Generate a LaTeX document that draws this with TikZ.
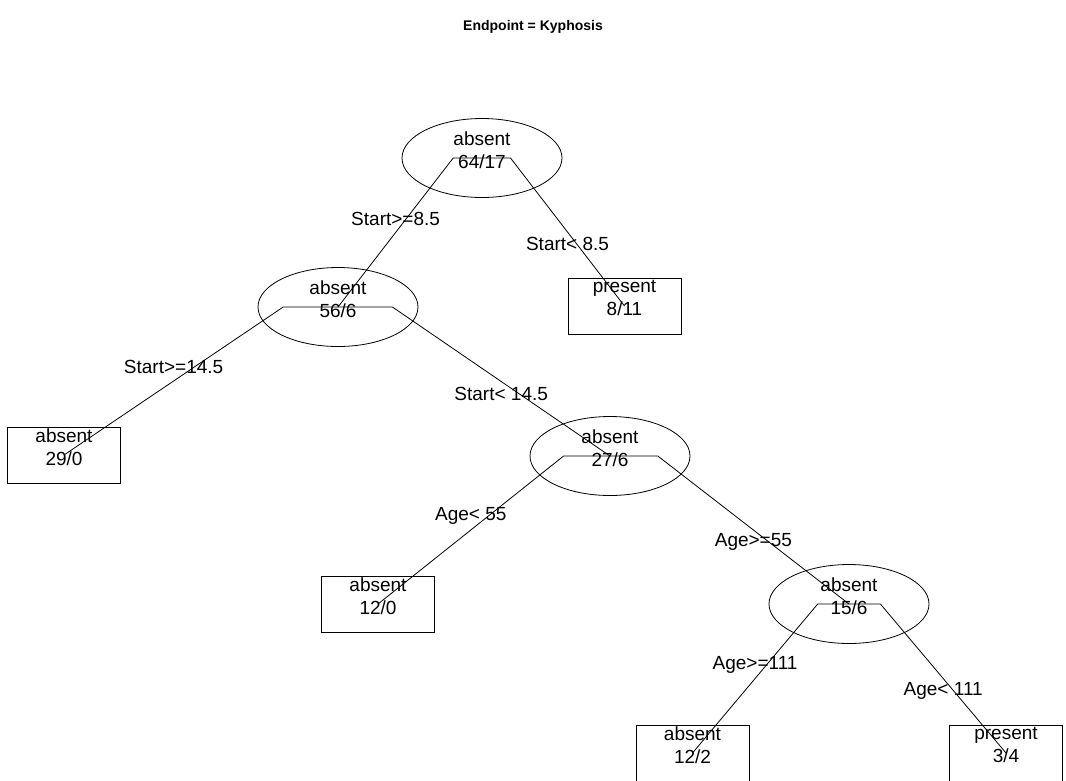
\documentclass[tikz,border=0pt]{standalone}
\usepackage{fontspec}
\setmainfont{Liberation Sans}
\usetikzlibrary{shapes.geometric,calc}
\begin{document}
\begin{tikzpicture}[x=1pt,y=-1pt,
  ell/.style={draw,ellipse,minimum width=160pt,minimum height=79pt,inner sep=0pt,line width=0.8pt},
  leaf/.style={draw,rectangle,minimum width=113pt,minimum height=56pt,inner sep=0pt,line width=0.8pt},
  txt/.style={font=\fontsize{19}{23}\selectfont,align=center,inner sep=0pt},
  lab/.style={font=\fontsize{19}{23}\selectfont,inner sep=0pt},
  br/.style={line width=0.8pt,line join=miter}]
\useasboundingbox (0,0) rectangle (1066,780);

\node[font=\fontsize{14}{17}\selectfont\bfseries,inner sep=0pt] (title) at (533,27) {Endpoint = Kyphosis};

% nodes
\node[ell]  (n1) at (482,158) {};
\node[ell]  (n2) at (338,307) {};
\node[leaf] (n3) at (624.5,306) {};
\node[leaf] (n4) at (64,455) {};
\node[ell]  (n5) at (610,456) {};
\node[leaf] (n6) at (378,604) {};
\node[ell]  (n7) at (849,604) {};
\node[leaf] (n8) at (692.5,753) {};
\node[leaf] (n9) at (1006,753) {};

\node[txt] (t1) at ($(n1)+(0,-8)$) {absent\\64/17};
\node[txt] (t2) at ($(n2)+(0,-8)$) {absent\\56/6};
\node[txt] (t3) at ($(n3)+(0,-8)$) {present\\8/11};
\node[txt] (t4) at ($(n4)+(0,-8)$) {absent\\29/0};
\node[txt] (t5) at ($(n5)+(0,-8)$) {absent\\27/6};
\node[txt] (t6) at ($(n6)+(0,-8)$) {absent\\12/0};
\node[txt] (t7) at ($(n7)+(0,-8)$) {absent\\15/6};
\node[txt] (t8) at ($(n8)+(0,-8)$) {absent\\12/2};
\node[txt] (t9) at ($(n9)+(0,-8)$) {present\\3/4};

% bar ends
\coordinate (p12) at ($(n1)!0.2!(n2)$); \coordinate (a12) at (p12 |- n1.center);
\coordinate (p13) at ($(n1)!0.2!(n3)$); \coordinate (a13) at (p13 |- n1.center);
\coordinate (p24) at ($(n2)!0.2!(n4)$); \coordinate (a24) at (p24 |- n2.center);
\coordinate (p25) at ($(n2)!0.2!(n5)$); \coordinate (a25) at (p25 |- n2.center);
\coordinate (p56) at ($(n5)!0.2!(n6)$); \coordinate (a56) at (p56 |- n5.center);
\coordinate (p57) at ($(n5)!0.2!(n7)$); \coordinate (a57) at (p57 |- n5.center);
\coordinate (p78) at ($(n7)!0.2!(n8)$); \coordinate (a78) at (p78 |- n7.center);
\coordinate (p79) at ($(n7)!0.2!(n9)$); \coordinate (a79) at (p79 |- n7.center);

% branches
\draw[br] (n1.center) -- (a12) -- (n2.center);
\draw[br] (n1.center) -- (a13) -- (n3.center);
\draw[br] (n2.center) -- (a24) -- (n4.center);
\draw[br] (n2.center) -- (a25) -- (n5.center);
\draw[br] (n5.center) -- (a56) -- (n6.center);
\draw[br] (n5.center) -- (a57) -- (n7.center);
\draw[br] (n7.center) -- (a78) -- (n8.center);
\draw[br] (n7.center) -- (a79) -- (n9.center);

% split labels
\node[lab] (l1) at ($(a12)!0.5!(n2)+(0,-14)$) {Start>=8.5};
\node[lab] (l2) at ($(a13)!0.5!(n3)+(0,12)$) {Start< 8.5};
\node[lab] (l3) at ($(a24)!0.5!(n4)+(0,-14)$) {Start>=14.5};
\node[lab] (l4) at ($(a25)!0.5!(n5)+(0,12)$) {Start< 14.5};
\node[lab] (l5) at ($(a56)!0.5!(n6)+(0,-14)$) {Age< 55};
\node[lab] (l6) at ($(a57)!0.5!(n7)+(0,12)$) {Age>=55};
\node[lab] (l7) at ($(a78)!0.5!(n8)+(0,-14)$) {Age>=111};
\node[lab] (l8) at ($(a79)!0.5!(n9)+(0,12)$) {Age< 111};
\end{tikzpicture}
\end{document}
